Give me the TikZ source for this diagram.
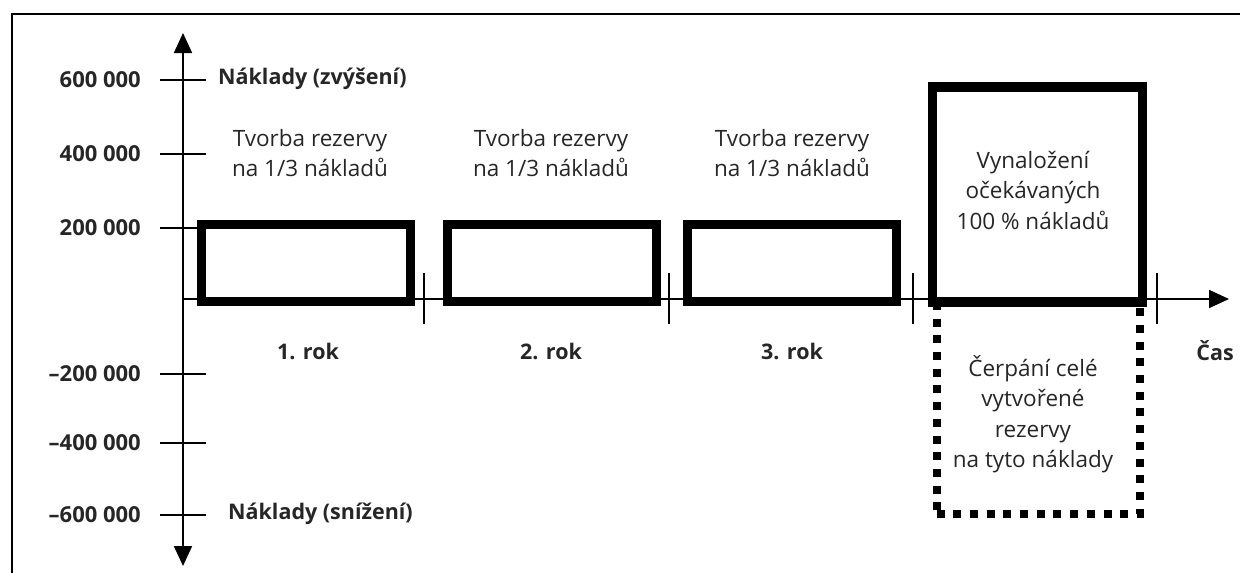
\documentclass[tikz,border=0pt]{standalone}
\usepackage{fontspec}
\setmainfont{Open Sans}
\usetikzlibrary{arrows.meta}
\begin{document}
\begin{tikzpicture}[x=1pt,y=-1pt,
  solidbox/.style={draw=black,line width=9.5pt,minimum width=#1,inner sep=0pt,outer sep=0pt},
  dotbox/.style={draw=black,line width=8pt,dash pattern=on 8pt off 8.7pt,inner sep=0pt,outer sep=0pt},
  lbl/.style={font=\fontsize{22.5}{30.5}\selectfont,align=center,inner sep=0pt,text=black!85},
  axlbl/.style={font=\fontsize{21.5}{24}\selectfont\bfseries,inner sep=0pt,text=black!85},
  ticklbl/.style={font=\fontsize{22}{24}\selectfont\bfseries,inner sep=0pt,anchor=east,text=black!85},
  axis/.style={line width=1.8pt,-{Triangle[width=18pt,length=20pt]}},
  tick/.style={line width=1.5pt}]
\useasboundingbox (0,0) rectangle (1240,573);
% frame (top and left only)
\coordinate (fa) at (12,14);
\coordinate (fb) at (1240,14);
\coordinate (fc) at (12,573);
\draw[line width=2.5pt] (fb) -- (fa) -- (fc);
% axes
\coordinate (o) at (183,299);
\coordinate (ytop) at (183,33);
\coordinate (ybot) at (183,566);
\coordinate (xend) at (1229,299);
\draw[axis] (o) -- (ytop);
\draw[axis] (o) -- (ybot);
\draw[axis] (o) -- (xend);
% y ticks
\foreach \y/\t/\n in {80/600 000/a,154/400 000/b,228/200 000/c,374/–200 000/d,443/–400 000/e,515/–600 000/f}{
  \coordinate (tl\n) at (160,\y);
  \coordinate (tr\n) at (206,\y);
  \draw[tick] (tl\n) -- (tr\n);
  \node[ticklbl] (tt\n) at (141,\y) {\t};
}
% x ticks
\foreach \x/\n in {424/a,669/b,913/c,1157/d}{
  \coordinate (xt\n) at (\x,273);
  \coordinate (xb\n) at (\x,324);
  \draw[tick] (xt\n) -- (xb\n);
}
% axis labels
\node[axlbl,anchor=west] (up) at (218,79) {Náklady (zvýšení)};
\node[axlbl,anchor=west] (down) at (228,514) {Náklady (snížení)};
\node[axlbl] (cas) at (1215,351) {Čas};
% dotted box
\node[dotbox,minimum width=203pt,minimum height=212pt] (d) at (1038,408) {};
% year boxes
\node[solidbox=209pt,minimum height=77pt] (b1) at (306,263) {};
\node[solidbox=209pt,minimum height=77pt] (b2) at (552,263) {};
\node[solidbox=209pt,minimum height=77pt] (b3) at (792,263) {};
\node[solidbox=210pt,minimum height=215pt,fill=white] (b4) at (1037.5,194.5) {};
% labels
\node[lbl] (l1) at (310,153) {Tvorba rezervy\\na 1/3 nákladů};
\node[lbl] (l2) at (551,153) {Tvorba rezervy\\na 1/3 nákladů};
\node[lbl] (l3) at (792,153) {Tvorba rezervy\\na 1/3 nákladů};
\node[lbl] (l4) at (1033,190) {Vynaložení\\očekávaných\\100 \% nákladů};
\node[lbl] (l5) at (1033,414) {Čerpání celé\\vytvořené\\rezervy\\na tyto náklady};
\node[axlbl] (r1) at (308,351) {1. rok};
\node[axlbl] (r2) at (551,351) {2. rok};
\node[axlbl] (r3) at (792,351) {3. rok};
\end{tikzpicture}
\end{document}
